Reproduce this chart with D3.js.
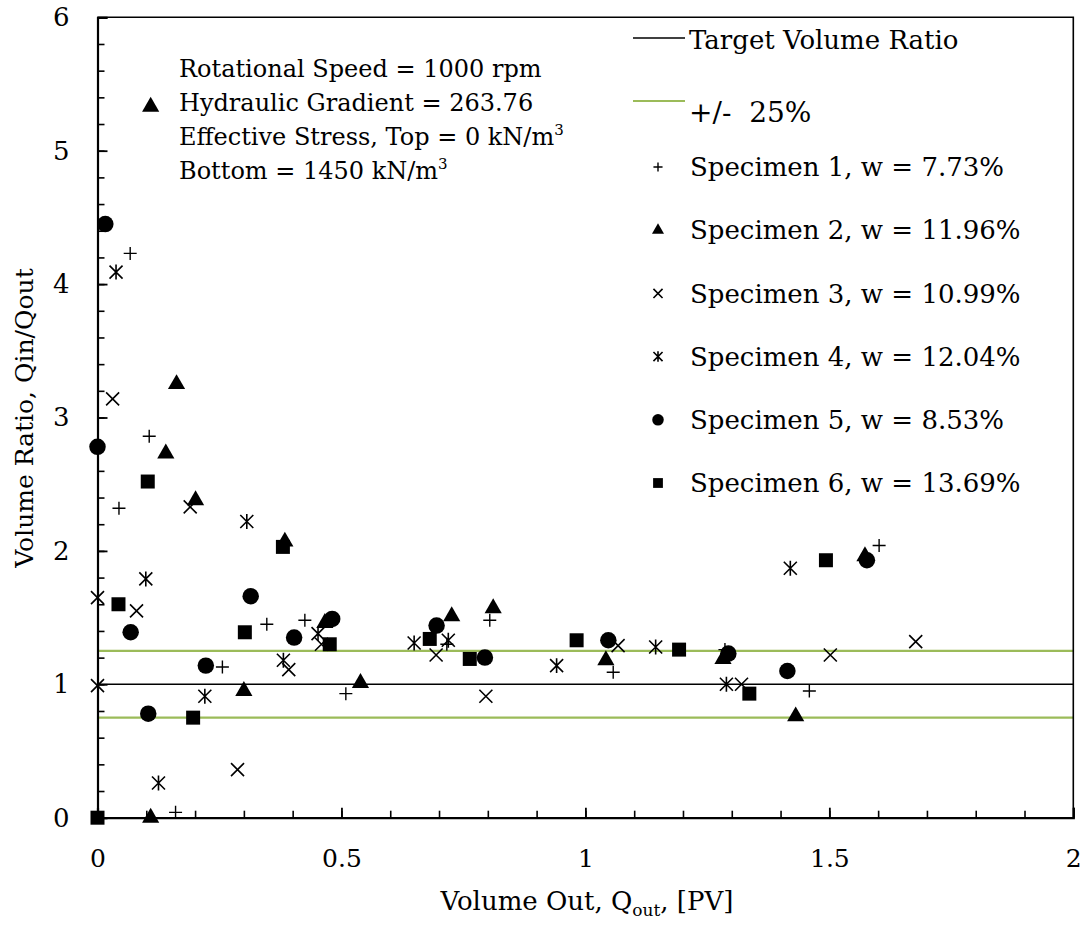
<!DOCTYPE html>
<html>
<head>
<meta charset="utf-8">
<script src="https://cdn.jsdelivr.net/npm/d3@7/dist/d3.min.js"></script>
<style>
  body { margin: 0; background: #fff; }
  svg { display: block; }
  text { font-family: "DejaVu Serif", serif; fill: #000; }
</style>
</head>
<body>
<svg width="1088" height="931"></svg>
<script>
var width = 1088;
var height = 931;

// data: [Qout (PV), Qin/Qout]
var specimen1 = [[0.067, 4.23], [0.106, 2.86], [0.044, 2.32], [0.347, 1.45], [0.425, 1.48],
  [0.256, 1.13], [0.509, 0.93], [0.160, 0.04], [0.716, 1.30], [0.804, 1.48], [1.057, 1.09],
  [1.286, 1.26], [1.459, 0.95], [1.602, 2.04]];
var specimen2 = [[0.109, 5.33], [0.162, 3.25], [0.140, 2.73], [0.201, 2.38], [0.384, 2.07],
  [0.466, 1.46], [0.300, 0.95], [0.539, 1.01], [0.109, 0.0], [0.726, 1.51], [0.811, 1.57],
  [1.042, 1.18], [1.282, 1.19], [1.431, 0.76], [1.573, 1.96]];
var specimen3 = [[0.031, 3.14], [0.0, 1.65], [0.080, 1.55], [0.190, 2.33], [0.392, 1.11],
  [0.459, 1.30], [0.0, 0.99], [0.287, 0.36], [0.694, 1.22], [0.796, 0.91], [1.067, 1.29],
  [1.320, 1.0], [1.502, 1.22], [1.677, 1.32]];
var specimen4 = [[0.038, 4.09], [0.099, 1.79], [0.306, 2.22], [0.452, 1.38], [0.381, 1.18],
  [0.220, 0.91], [0.125, 0.26], [0.649, 1.31], [0.719, 1.33], [0.941, 1.14], [1.144, 1.28],
  [1.289, 1.0], [1.420, 1.87]];
var specimen5 = [[0.0, 2.78], [0.016, 4.45], [0.314, 1.66], [0.068, 1.39], [0.403, 1.35],
  [0.481, 1.49], [0.222, 1.14], [0.104, 0.78], [0.695, 1.44], [0.794, 1.20], [1.047, 1.33],
  [1.293, 1.23], [1.414, 1.10], [1.577, 1.93]];
var specimen6 = [[0.0, 0.0], [0.103, 2.52], [0.380, 2.03], [0.043, 1.60], [0.302, 1.39],
  [0.476, 1.30], [0.196, 0.75], [0.681, 1.34], [0.763, 1.19], [0.982, 1.33], [1.192, 1.26],
  [1.336, 0.93], [1.493, 1.93]];

var seriesNames = ["Specimen 1, w = 7.73%", "Specimen 2, w = 11.96%", "Specimen 3, w = 10.99%",
  "Specimen 4, w = 12.04%", "Specimen 5, w = 8.53%", "Specimen 6, w = 13.69%"];
var seriesMarkers = ["plus", "triangle", "cross", "asterisk", "circle", "square"];
var seriesData = [specimen1, specimen2, specimen3, specimen4, specimen5, specimen6];

var targetRatio = 1;
var bandRatios = [0.75, 1.25];

var xTicks = [0, 0.5, 1, 1.5, 2];
var yTicks = [0, 1, 2, 3, 4, 5, 6];

var svg = d3.select("svg");

var x = d3.scaleLinear().domain([0, 2]).range([97.5, 1073.3]);
var y = d3.scaleLinear().domain([0, 6]).range([817.7, 17.3]);

// marker shapes
function markerPath(type, s) {
  var h = s / 2;
  if (type === "plus") return "M" + (-h) + ",0H" + h + "M0," + (-h) + "V" + h;
  if (type === "cross") return "M" + (-h) + "," + (-h) + "L" + h + "," + h + "M" + (-h) + "," + h + "L" + h + "," + (-h);
  if (type === "asterisk") return "M" + (-h) + "," + (-h) + "L" + h + "," + h + "M" + (-h) + "," + h + "L" + h + "," + (-h) + "M0," + (-h * 1.15) + "V" + (h * 1.15);
  if (type === "triangle") return d3.symbol().type(d3.symbolTriangle).size(s * s * 0.5)();
  if (type === "circle") return d3.symbol().type(d3.symbolCircle).size(s * s * 0.95)();
  return d3.symbol().type(d3.symbolSquare).size(s * s)();
}
function isFilled(type) {
  return type === "triangle" || type === "circle" || type === "square";
}
function drawMarker(sel, type, s) {
  sel.attr("d", markerPath(type, s))
     .attr("fill", isFilled(type) ? "#000" : "none")
     .attr("stroke", isFilled(type) ? "none" : "#000")
     .attr("stroke-width", type === "plus" ? 1.4 : 1.6);
}
var markerSize = { plus: 13, triangle: 16, cross: 13, asterisk: 13, circle: 15, square: 14 };

// reference lines
svg.append("line")
   .attr("x1", x(0)).attr("x2", x(2))
   .attr("y1", y(targetRatio)).attr("y2", y(targetRatio))
   .attr("stroke", "#000").attr("stroke-width", 1.6);

svg.selectAll(".band")
  .data(bandRatios)
  .enter()
  .append("line")
    .attr("class", "band")
    .attr("x1", x(0)).attr("x2", x(2))
    .attr("y1", d => y(d)).attr("y2", d => y(d))
    .attr("stroke", "#9bbb59").attr("stroke-width", 2.2);

// frame (top and right)
svg.append("path")
   .attr("d", "M" + x(0) + "," + y(6) + "H" + x(2) + "V" + y(0))
   .attr("fill", "none").attr("stroke", "#000").attr("stroke-width", 1.6);

// x axis: minor + major
svg.append("g")
   .attr("transform", "translate(0," + y(0) + ")")
   .call(d3.axisBottom(x).tickValues(d3.range(0, 2.001, 0.1)).tickSize(-7).tickFormat(""))
   .call(g => g.select(".domain").remove())
   .selectAll("line").attr("stroke-width", 1.6);

var xAxis = svg.append("g")
   .attr("transform", "translate(0," + y(0) + ")")
   .call(d3.axisBottom(x).tickValues(xTicks).tickSize(-10).tickPadding(32).tickFormat(d3.format("")));
xAxis.select(".domain").attr("stroke-width", 2.2);
xAxis.selectAll("line").attr("stroke-width", 1.8);
xAxis.selectAll("text").attr("font-family", "DejaVu Serif").attr("font-size", 25);

// y axis: minor + major
svg.append("g")
   .attr("transform", "translate(" + x(0) + ",0)")
   .call(d3.axisLeft(y).tickValues(d3.range(0, 6.001, 0.2)).tickSize(-7).tickFormat(""))
   .call(g => g.select(".domain").remove())
   .selectAll("line").attr("stroke-width", 1.6);

var yAxis = svg.append("g")
   .attr("transform", "translate(" + x(0) + ",0)")
   .call(d3.axisLeft(y).tickValues(yTicks).tickSize(-10).tickPadding(28).tickFormat(d3.format("d")));
yAxis.select(".domain").attr("stroke-width", 2.2);
yAxis.selectAll("line").attr("stroke-width", 1.8);
yAxis.selectAll("text").attr("font-family", "DejaVu Serif").attr("font-size", 26);

// axis titles
svg.append("text")
   .attr("transform", "rotate(-90)")
   .attr("x", -418)
   .attr("y", 33)
   .attr("text-anchor", "middle")
   .attr("font-size", 25)
   .text("Volume Ratio, Qin/Qout");

var xTitle = svg.append("text")
   .attr("x", 587)
   .attr("y", 910)
   .attr("text-anchor", "middle")
   .attr("font-size", 26);
xTitle.append("tspan").text("Volume Out, Q");
xTitle.append("tspan").attr("font-size", 17).attr("dy", 6).text("out");
xTitle.append("tspan").attr("dy", -6).text(", [PV]");

// data markers
seriesData.forEach(function(data, i) {
  var type = seriesMarkers[i];
  svg.append("g")
     .selectAll("path")
     .data(data)
     .enter()
     .append("path")
       .attr("transform", d => "translate(" + x(d[0]) + "," + y(d[1]) + ")")
       .call(drawMarker, type, markerSize[type]);
});

// test conditions
var noteLines = [
  ["Rotational Speed = 1000 rpm", null],
  ["Hydraulic Gradient = 263.76", null],
  ["Effective Stress, Top = 0 kN/m", "3"],
  ["Bottom = 1450 kN/m", "3"]
];
noteLines.forEach(function(l, i) {
  var t = svg.append("text")
     .attr("x", 179)
     .attr("y", 77 + i * 34)
     .attr("font-size", 24);
  t.append("tspan").text(l[0]);
  if (l[1]) t.append("tspan").attr("font-size", 15).attr("dy", -10).text(l[1]);
});

// legend
var lg = svg.append("g");
lg.append("line").attr("x1", 633).attr("x2", 685).attr("y1", 38).attr("y2", 38)
  .attr("stroke", "#000").attr("stroke-width", 1.6);
lg.append("text").attr("x", 689).attr("y", 40).attr("dy", "0.35em")
  .attr("font-size", 26).text("Target Volume Ratio");
lg.append("line").attr("x1", 633).attr("x2", 685).attr("y1", 101).attr("y2", 101)
  .attr("stroke", "#9bbb59").attr("stroke-width", 2.2);
lg.append("text").attr("x", 689).attr("y", 112).attr("dy", "0.35em")
  .attr("font-family", "Liberation Sans").attr("font-size", 28)
  .attr("xml:space", "preserve").style("white-space", "pre")
  .text("+/-  25%");

var legendRows = lg.selectAll(".row")
  .data(seriesNames)
  .enter()
  .append("g")
    .attr("class", "row")
    .attr("transform", (d, i) => "translate(0," + (167 + i * 63.2) + ")");
legendRows.append("path")
  .attr("transform", "translate(658,0)")
  .each(function(d, i) {
    var type = seriesMarkers[i];
    d3.select(this).call(drawMarker, type, markerSize[type] * 0.7);
  });
legendRows.append("text")
  .attr("x", 690)
  .attr("dy", "0.35em")
  .attr("font-size", 26)
  .text(d => d);
</script>
</body>
</html>
